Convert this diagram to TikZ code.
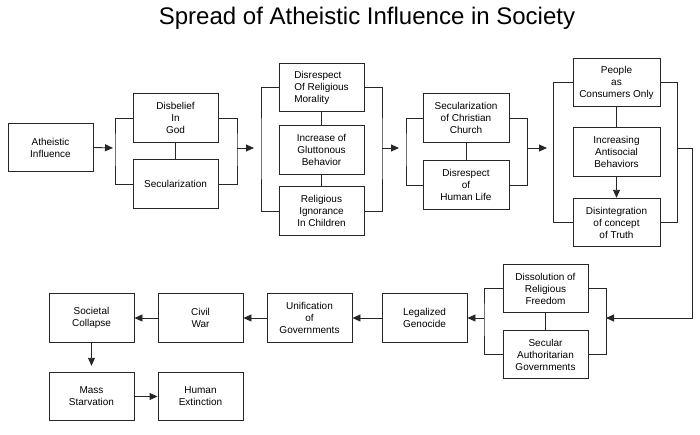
\documentclass[tikz,border=0pt]{standalone}
\usepackage{fontspec}
\setmainfont{Liberation Sans}
\usetikzlibrary{arrows.meta}
\begin{document}
\begin{tikzpicture}[x=1pt,y=-1pt,
  box/.style={draw=black!85, line width=0.9pt, minimum width=85pt, minimum height=48.5pt,
    inner sep=1pt, align=center, font=\fontsize{10}{12}\selectfont},
  lbox/.style={box, align=left},
  link/.style={draw=black!85, line width=0.9pt},
  arr/.style={link, -{Triangle[length=8pt,width=7pt]}}]
\useasboundingbox (0,0) rectangle (700,434);
\node[anchor=base, font=\fontsize{24}{28}\selectfont] (title) at (367,24) {Spread of Atheistic Influence in Society};

% group 0
\node[box] (ath) at (50.5,147.5) {Atheistic\\Influence};
% group 1
\node[box] (dis) at (175.5,118) {Disbelief\\In\\God};
\node[box] (sec) at (175.5,184) {Secularization};
% group 2
\node[lbox] (disr) at (321.5,87.5) {Disrespect\\Of Religious\\Morality};
\node[box] (inc) at (321.5,150) {Increase of\\Gluttonous\\Behavior};
\node[box] (rel) at (321.5,211) {Religious\\Ignorance\\In Children};
% group 3
\node[box, minimum width=86pt] (secc) at (466,118) {Secularization\\of Christian\\Church};
\node[box, minimum width=86pt] (dhl) at (466,185) {Disrespect\\of\\Human Life};
% group 4
\node[box, minimum width=87pt] (peo) at (616.5,82.5) {People\\as\\Consumers Only};
\node[box, minimum width=87pt] (ias) at (616.5,152) {Increasing\\Antisocial\\Behaviors};
\node[box, minimum width=87pt] (dct) at (616.5,222.5) {Disintegration\\of concept\\of Truth};
% group 5
\node[box] (dor) at (545.5,288.5) {Dissolution of\\Religious\\Freedom};
\node[box] (saa) at (545.5,354.5) {Secular\\Authoritarian\\Governments};
% row
\node[box] (lg) at (424.5,318) {Legalized\\Genocide};
\node[box] (ug) at (309.5,318) {Unification\\of\\Governments};
\node[box] (cw) at (200.5,318) {Civil\\War};
\node[box] (sc) at (91.5,318) {Societal\\Collapse};
\node[box] (ms) at (91.5,396.5) {Mass\\Starvation};
\node[box] (he) at (200.5,396.5) {Human\\Extinction};

% bracket coordinates
\coordinate (lb1) at (115,148);
\coordinate (rb1) at (237,148);
\coordinate (lb2) at (261,148);
\coordinate (rb2) at (382,148);
\coordinate (lb3) at (406,148);
\coordinate (rb3) at (527,148);
\coordinate (lb4) at (553,148);
\coordinate (rb4) at (677,148);
\coordinate (c1) at (692,148);
\coordinate (rb5) at (606,318);
\coordinate (lb5) at (484,318);

% group 1 brackets
\draw[link] (dis.west) -| (lb1) |- (sec.west);
\draw[link] (dis.east) -| (rb1) |- (sec.east);
\draw[link] (dis.south) -- (sec.north);
% group 2 brackets
\draw[link] (disr.west) -| (lb2) |- (rel.west);
\draw[link] (disr.east) -| (rb2) |- (rel.east);
\draw[link] (disr.south) -- (inc.north);
\draw[link] (inc.south) -- (rel.north);
% group 3 brackets
\draw[link] (secc.west) -| (lb3) |- (dhl.west);
\draw[link] (secc.east) -| (rb3) |- (dhl.east);
\draw[link] (secc.south) -- (dhl.north);
% group 4 brackets
\draw[link] (peo.west) -| (lb4) |- (dct.west);
\draw[link] (peo.east) -| (rb4) |- (dct.east);
\draw[link] (peo.south) -- (ias.north);
\draw[arr] (ias.south) -- (dct.north);
% group 5 brackets
\draw[link] (dor.west) -| (lb5) |- (saa.west);
\draw[link] (dor.east) -| (rb5) |- (saa.east);
\draw[link] (dor.south) -- (saa.north);

% arrows between groups
\draw[arr, shorten >=2pt] (ath.east) -- (lb1);
\draw[arr, shorten >=7pt] (rb1) -- (lb2);
\draw[arr, shorten >=7pt] (rb2) -- (lb3);
\draw[arr, shorten >=6pt] (rb3) -- (lb4);
\draw[arr] (rb4) -- (c1) |- (rb5);
\draw[arr] (lb5) -- (lg.east);
\draw[arr] (lg.west) -- (ug.east);
\draw[arr] (ug.west) -- (cw.east);
\draw[arr] (cw.west) -- (sc.east);
\draw[arr, shorten >=6pt] (sc.south) -- (ms.north);
\draw[arr] (ms.east) -- (he.west);
\end{tikzpicture}
\end{document}
